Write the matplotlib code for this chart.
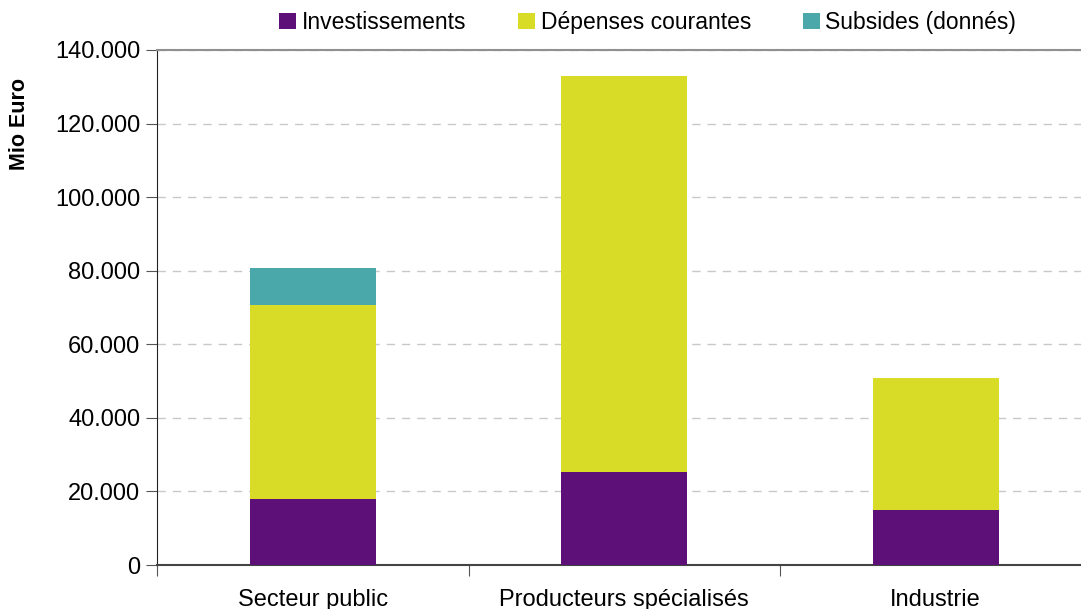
import numpy as np
import matplotlib
matplotlib.use("Agg")
import matplotlib.pyplot as plt
from matplotlib.patches import Patch

plt.rcParams['font.family'] = ['Liberation Sans', 'DejaVu Sans']

# data
categories = ["Secteur public", "Producteurs spécialisés", "Industrie"]
investissements = [17900, 25400, 15000]
depenses = [52800, 107500, 35800]
subsides = [10000, 0, 0]
series_names = ["Investissements", "Dépenses courantes", "Subsides (donnés)"]
colors = ["#5C1078", "#D8DC26", "#4BA8AA"]
yticks = [0, 20000, 40000, 60000, 80000, 100000, 120000, 140000]
ytick_labels = ["0", "20.000", "40.000", "60.000", "80.000", "100.000", "120.000", "140.000"]

fig = plt.figure(figsize=(10.81, 6.09), dpi=100)
ax = fig.add_axes([157/1081, 1 - 565/609, (1091.5 - 157)/1081, (565 - 50)/609])

x = np.arange(len(categories))
w = 0.405
inv = np.array(investissements)
dep = np.array(depenses)
sub = np.array(subsides)
ax.bar(x, inv, w, color=colors[0], zorder=3)
ax.bar(x, dep, w, bottom=inv, color=colors[1], zorder=3)
ax.bar(x, sub, w, bottom=inv + dep, color=colors[2], zorder=3)

ax.set_xlim(-0.5, 2.5)
ax.set_ylim(0, 140000)
ax.set_yticks(yticks)
ax.set_yticklabels(ytick_labels, fontsize=17)
ax.yaxis.grid(True, color="#c8c8c8", linestyle=(0, (6, 5)), linewidth=1, zorder=0)

# x ticks at category boundaries, labels centred under bars
ax.set_xticks([-0.5, 0.5, 1.5, 2.5])
ax.set_xticklabels([])
ax.set_xticks(x, minor=True)
ax.set_xticklabels(categories, minor=True, fontsize=17)
ax.tick_params(axis="x", which="minor", length=0, pad=17)
ax.tick_params(axis="x", which="major", length=8, color="#555555", direction="out")
ax.tick_params(axis="y", length=8, color="#555555", direction="out", pad=4)

ax.spines["right"].set_visible(False)
ax.spines["top"].set_color("#909090")
ax.spines["top"].set_linewidth(1.5)
ax.spines["left"].set_color("#222222")
ax.spines["bottom"].set_color("#444444")
ax.spines["bottom"].set_linewidth(1.5)

fig.text(20/1081, 1 - 124/609, "Mio Euro", rotation=90, fontsize=15.5,
         fontweight="bold", ha="center", va="center")

handles = [Patch(facecolor=c) for c in colors]
fig.legend(handles, series_names, loc="center", bbox_to_anchor=(0.599, 0.963), ncol=3,
           frameon=False, fontsize=16.5, handlelength=0.75, handleheight=0.75,
           handletextpad=0.25, columnspacing=2.25)

fig.savefig("out.png", dpi=100)
